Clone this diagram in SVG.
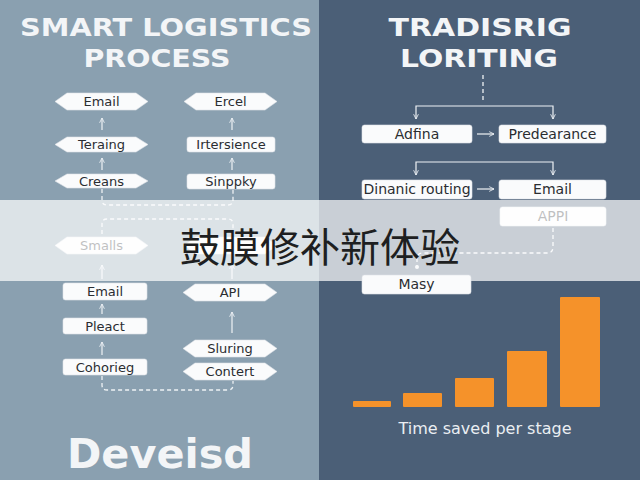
<svg xmlns="http://www.w3.org/2000/svg" width="640" height="480" viewBox="0 0 640 480">
<defs>
<style>
.title{font-family:"DejaVu Sans",sans-serif;font-weight:bold;fill:#f3f5f7}
.lbl{font-family:"DejaVu Sans",sans-serif;font-size:13px;fill:#2a2d31;text-anchor:middle}
.rl{font-family:"DejaVu Sans",sans-serif;font-size:14px;fill:#2a2d31;text-anchor:middle}
.box{fill:#fafbfc;stroke:#dfe3e7;stroke-width:0.6}
.ln{fill:none;stroke:#eef2f5;stroke-width:1.2}
.dash{fill:none;stroke:#eef2f5;stroke-width:1.3;stroke-dasharray:4 3}
.bar{fill:#f5922a}
</style>
<marker id="ah" viewBox="0 0 10 10" refX="9" refY="5" markerWidth="6" markerHeight="6" orient="auto-start-reverse" markerUnits="userSpaceOnUse">
<path d="M1,1 L9,5 L1,9" fill="none" stroke="#eef2f5" stroke-width="1.4"/>
</marker>
</defs>
<rect x="0" y="0" width="320" height="480" fill="#8aa0b0"/>
<rect x="319" y="0" width="321" height="480" fill="#4b5f77"/>

<text class="title" x="166" y="36" font-size="25" text-anchor="middle" textLength="292" lengthAdjust="spacingAndGlyphs">SMART LOGISTICS</text>
<text class="title" x="157" y="67" font-size="25" text-anchor="middle" textLength="147" lengthAdjust="spacingAndGlyphs">PROCESS</text>
<text class="title" x="480" y="36" font-size="25" text-anchor="middle" textLength="183" lengthAdjust="spacingAndGlyphs">TRADISRIG</text>
<text class="title" x="479" y="67" font-size="25" text-anchor="middle" textLength="158" lengthAdjust="spacingAndGlyphs">LORITING</text>

<g id="connectors">
<line class="ln" x1="102" y1="130" x2="102" y2="118" marker-end="url(#ah)"/>
<line class="ln" x1="102" y1="170" x2="102" y2="158" marker-end="url(#ah)"/>
<line class="ln" x1="232" y1="130" x2="232" y2="118" marker-end="url(#ah)"/>
<line class="ln" x1="232" y1="170" x2="232" y2="158" marker-end="url(#ah)"/>
<path class="dash" d="M102,189 V200 Q102,205 107,205 H228 Q233,205 233,200 V189"/>
<path class="dash" d="M102,234 V224 Q102,219 107,219 H228 Q233,219 233,224 V236"/>
<line class="ln" x1="102" y1="279" x2="102" y2="265" marker-end="url(#ah)"/>
<line class="ln" x1="232" y1="279" x2="232" y2="264" marker-end="url(#ah)"/>
<line class="ln" x1="102" y1="314" x2="102" y2="304" marker-end="url(#ah)"/>
<line class="ln" x1="102" y1="355" x2="102" y2="342" marker-end="url(#ah)"/>
<line class="ln" x1="232" y1="333" x2="232" y2="312" marker-end="url(#ah)"/>
<path class="dash" d="M102,376 V385 Q102,390 107,390 H228 Q233,390 233,385 V381"/>
<line class="dash" x1="483" y1="75" x2="483" y2="100"/>
<path class="ln" d="M416,119 V106 H553 V119" marker-start="url(#ah)" marker-end="url(#ah)"/>
<path class="ln" d="M416,175 V162 H553 V175" marker-start="url(#ah)" marker-end="url(#ah)"/>
<line class="ln" x1="477" y1="134" x2="494" y2="134" marker-end="url(#ah)"/>
<line class="ln" x1="477" y1="189" x2="494" y2="189" marker-end="url(#ah)"/>
<path class="dash" d="M553,228 V247 Q553,253 547,253 H423 Q417,253 417,259 V267"/>
<circle cx="417" cy="267" r="2" fill="#eef2f5"/>
</g>

<g id="n-email1"><polygon class="box" points="55,101.5 67,93 136,93 148,101.5 136,110 67,110"/><text class="lbl" x="101.5" y="106">Email</text></g>
<g id="n-terainig"><polygon class="box" points="55,144.5 67,137 136,137 148,144.5 136,152 67,152"/><text class="lbl" x="101.5" y="149">Teraing</text></g>
<g id="n-creans"><polygon class="box" points="55,181 67,174 136,174 148,181 136,188 67,188"/><text class="lbl" x="101.5" y="186">Creans</text></g>
<g id="n-ercel"><polygon class="box" points="184,101.5 196,93 265,93 277,101.5 265,110 196,110"/><text class="lbl" x="230.5" y="106">Ercel</text></g>
<g id="n-irtersience"><rect class="box" x="187" y="137" width="88" height="15" rx="2.5"/><text class="lbl" x="231" y="149">Irtersience</text></g>
<g id="n-sinppky"><rect class="box" x="187" y="174" width="88" height="15" rx="2.5"/><text class="lbl" x="231" y="186">Sinppky</text></g>
<g id="n-smalls"><polygon class="box" points="55,245.5 67,237 136,237 148,245.5 136,254 67,254"/><text class="lbl" x="101.5" y="250">Smalls</text></g>
<g id="n-hidden"><polygon class="box" points="184,245.5 196,237 265,237 277,245.5 265,254 196,254"/></g>
<g id="n-email2"><rect class="box" x="63" y="283" width="84" height="17" rx="2.5"/><text class="lbl" x="105" y="296">Email</text></g>
<g id="n-pleact"><rect class="box" x="63" y="318" width="84" height="16" rx="2.5"/><text class="lbl" x="105" y="331">Pleact</text></g>
<g id="n-cohorieg"><rect class="box" x="63" y="359" width="84" height="16" rx="2.5"/><text class="lbl" x="105" y="372">Cohorieg</text></g>
<g id="n-api"><polygon class="box" points="183,292.5 195,284 265,284 277,292.5 265,301 195,301"/><text class="lbl" x="230" y="297">API</text></g>
<g id="n-sluring"><polygon class="box" points="183,348.5 195,340 265,340 277,348.5 265,357 195,357"/><text class="lbl" x="230" y="353">Sluring</text></g>
<g id="n-contert"><polygon class="box" points="183,371.5 195,363 265,363 277,371.5 265,380 195,380"/><text class="lbl" x="230" y="376">Contert</text></g>

<g id="n-adfina"><rect class="box" x="362" y="125" width="110" height="18" rx="2.5"/><text class="rl" x="417" y="139">Adfina</text></g>
<g id="n-predearance"><rect class="box" x="499" y="125" width="107" height="18" rx="2.5"/><text class="rl" x="552.5" y="139">Predearance</text></g>
<g id="n-dinanic"><rect class="box" x="362" y="180" width="110" height="19" rx="2.5"/><text class="rl" x="417" y="194">Dinanic routing</text></g>
<g id="n-email3"><rect class="box" x="499" y="180" width="107" height="19" rx="2.5"/><text class="rl" x="552.5" y="194">Email</text></g>
<g id="n-appi"><rect class="box" x="500" y="207" width="106" height="19" rx="2.5"/><text class="rl" x="553" y="221">APPI</text></g>

<rect id="band" x="0" y="200" width="640" height="81" fill="#ffffff" fill-opacity="0.7"/>

<g id="n-masy"><rect class="box" x="362" y="275" width="109" height="19" rx="2.5"/><text class="rl" x="416.5" y="289">Masy</text></g>

<g id="chart">
<rect class="bar" x="353" y="401" width="38" height="6" rx="1"/>
<rect class="bar" x="403" y="393" width="39" height="14" rx="1"/>
<rect class="bar" x="455" y="378" width="39" height="29" rx="1"/>
<rect class="bar" x="507" y="351" width="40" height="56" rx="1"/>
<rect class="bar" x="560" y="297" width="40" height="110" rx="1"/>
<text x="485" y="434" font-family="DejaVu Sans,sans-serif" font-size="16" fill="#eaeef2" text-anchor="middle">Time saved per stage</text>
</g>

<text class="title" x="160" y="468" font-size="40" text-anchor="middle" textLength="186" lengthAdjust="spacingAndGlyphs">Deveisd</text>

<text x="320" y="262" font-family="'Noto Sans CJK SC',sans-serif" font-size="40" fill="#1e1f21" text-anchor="middle">鼓膜修补新体验</text>
</svg>
